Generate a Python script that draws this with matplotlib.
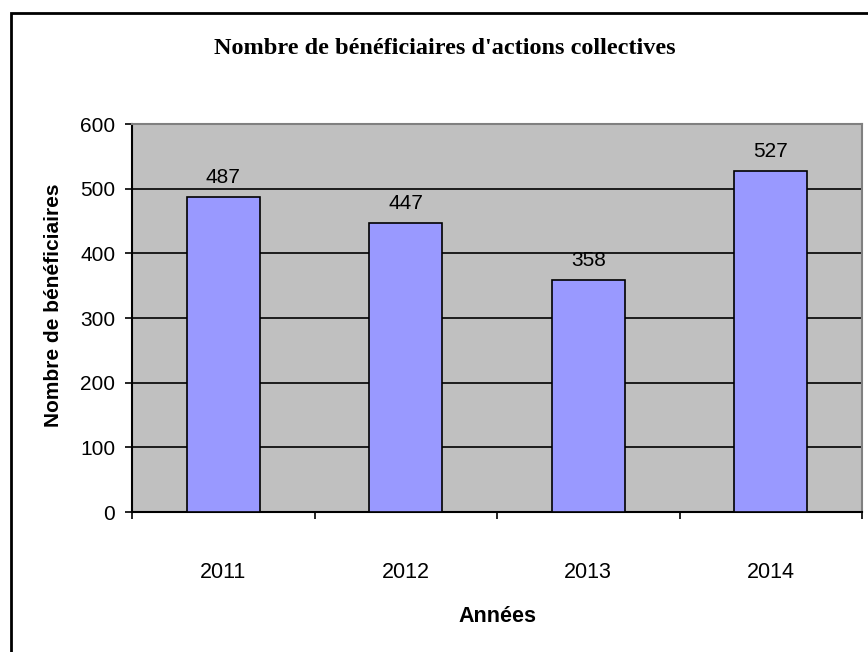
import matplotlib.pyplot as plt
from matplotlib.patches import Rectangle

annees = ['2011', '2012', '2013', '2014']
beneficiaires = [487, 447, 358, 527]
graduations = [0, 100, 200, 300, 400, 500, 600]

plt.rcParams['font.family'] = ['Liberation Sans', 'DejaVu Sans']

fig = plt.figure(figsize=(8.68, 6.52), dpi=100)
# cadre extérieur (coupé à droite et en bas)
fig.patches.append(Rectangle((11 / 868, -0.1), 1.2, 1 - 13 / 652 + 0.1, transform=fig.transFigure,
                             fill=False, edgecolor='black', linewidth=2, zorder=0))

ax = fig.add_axes([132 / 868, 1 - 512 / 652, 730 / 868, 388 / 652])
ax.set_facecolor('#C0C0C0')

x = range(len(annees))
ax.bar(x, beneficiaires, width=0.4, color='#9999FF', edgecolor='black', linewidth=1.2, zorder=3)
for i, v in zip(x, beneficiaires):
    ax.text(i, v + 16, str(v), ha='center', va='bottom', fontsize=15, zorder=4)

ax.set_xlim(-0.5, len(annees) - 0.5)
ax.set_ylim(0, 600)
ax.set_yticks(graduations)
ax.yaxis.grid(True, color='black', linewidth=1.2, zorder=0)
ax.set_axisbelow(True)

ax.set_xticks([i - 0.5 for i in range(len(annees) + 1)])
ax.set_xticklabels([])
ax.set_xticks(list(x), minor=True)
ax.set_xticklabels(annees, minor=True, fontsize=15.5)
ax.tick_params(axis='x', which='minor', length=0, pad=36)
ax.tick_params(axis='x', which='major', length=5, width=1.2, direction='out')
ax.tick_params(axis='y', length=5, width=1.2, labelsize=15, pad=7)

for s in ['left', 'bottom']:
    ax.spines[s].set_color('black')
    ax.spines[s].set_linewidth(1.5)
for s in ['top', 'right']:
    ax.spines[s].set_color('#808080')
    ax.spines[s].set_linewidth(1.5)

ax.set_xlabel('Années', fontsize=15.5, fontweight='bold', va='center')
ax.xaxis.set_label_coords(0.5, (512 - 616) / 388)
ax.set_ylabel('Nombre de bénéficiaires', fontsize=15, fontweight='bold', va='center')
ax.yaxis.set_label_coords((54 - 132) / 730, (512 - 305) / 388)
fig.text(445 / 868, 1 - 48 / 652, "Nombre de bénéficiaires d'actions collectives",
         ha='center', va='center', fontsize=17.5, fontweight='bold', family='Liberation Serif')

fig.savefig('out.png', dpi=100)
